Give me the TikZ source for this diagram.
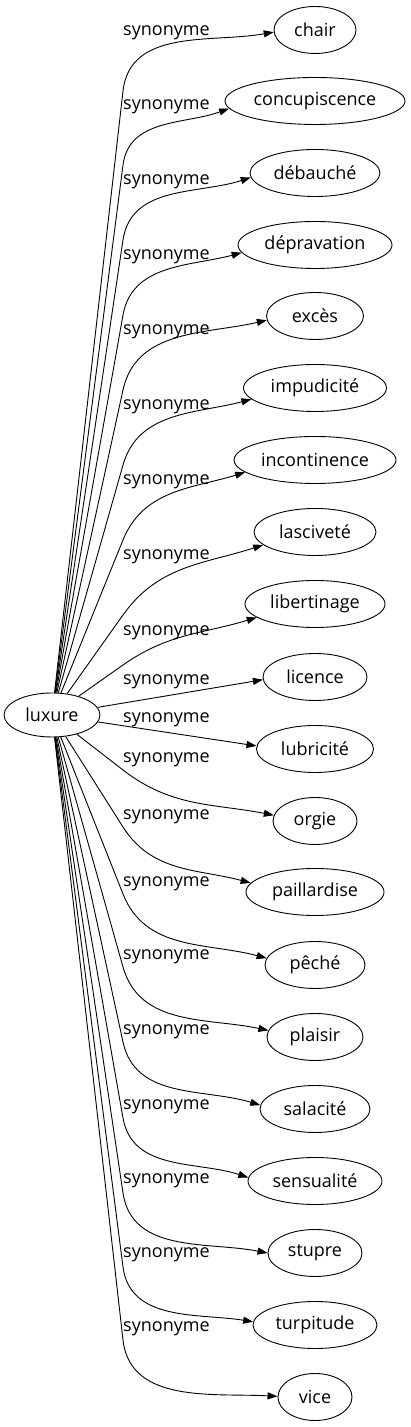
\documentclass[tikz,border=0pt]{standalone}
\usepackage{fontspec}
\setmainfont{Open Sans}
\usetikzlibrary{arrows.meta,calc,shapes.geometric}
\begin{document}
\begin{tikzpicture}[x=1pt,y=1pt,
  every node/.style={font=\fontsize{18}{21}\selectfont},
  term/.style={draw, ellipse, inner sep=0pt, minimum height=47pt, line width=0.9pt},
  rel/.style={inner sep=0pt},
  link/.style={line width=0.9pt, -{Triangle[length=10pt,width=7pt]}}]
\useasboundingbox (0,0) rectangle (410,1427);
\node[term, minimum width=96pt, minimum height=44pt] (root) at (52,712) {luxure};
\foreach \i/\txt/\w/\yy in {
  0/chair/82/30, 1/concupiscence/180/101, 2/débauché/130/173,
  3/dépravation/154/245, 4/excès/97/316, 5/impudicité/143/388,
  6/incontinence/162/460, 7/lasciveté/122/532, 8/libertinage/140/604,
  9/licence/104/677, 10/lubricité/117/749, 11/orgie/84/821,
  12/paillardise/138/892, 13/pêché/100/965, 14/plaisir/96/1037,
  15/salacité/110/1109, 16/sensualité/134/1181, 17/stupre/94/1253,
  18/turpitude/124/1325, 19/vice/74/1397}
  \node[term, minimum width=\w pt] (t\i) at (315,{1427-\yy}) {\txt};
\foreach \i/\ly in {0/33,1/107,2/182,3/257,4/332,5/407,6/482,7/557,8/633,
  9/682,10/720,11/760,12/817,13/884,14/957,15/1032,16/1107,17/1181,18/1255,19/1329}
  \node[rel] (l\i) at (166.5,{1427-\ly}) {synonyme};
\foreach \i/\by/\ea/\ia in {0/91/183/190, 1/165/185/200, 2/240/184/198,
  3/315/186/195, 4/390/185/193, 5/465/190/195, 6/540/190/197,
  7/615/194/198, 8/665/193/197, 11/770/172/169, 12/827/172/165,
  13/894/172/165, 14/967/172/168, 15/1042/176/163, 16/1118/177/162,
  17/1193/180/169, 18/1267/177/171, 19/1340/179/177}
{
  \coordinate (b\i) at (123,{1427-\by});
  \draw[link] let \p1=($(b\i)-(root.center)$), \n1={atan2(\y1,\x1)} in
    (root) -- (b\i) to[out=\n1, in=\ia] (t\i.\ea);
}
\draw[link] (root) -- (t9.183);
\draw[link] (root) -- (t10.177);
\end{tikzpicture}
\end{document}
